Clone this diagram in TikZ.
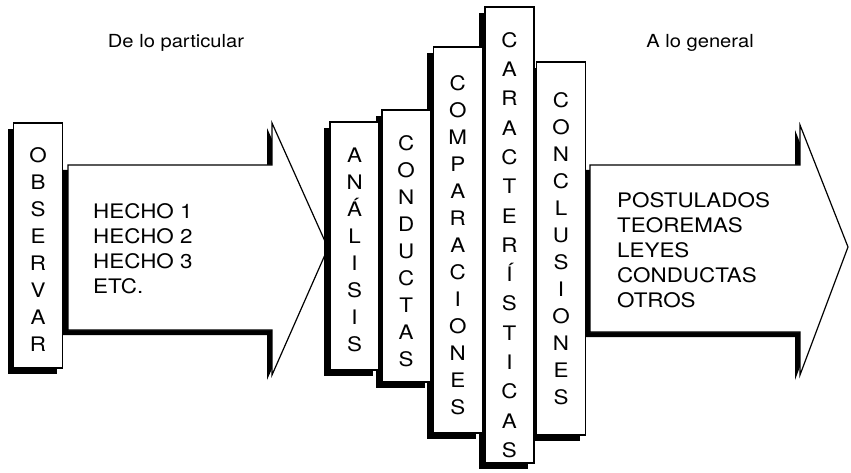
\documentclass[tikz,border=0pt]{standalone}
\usepackage{fontspec}
\setmainfont{TeX Gyre Heros}[FakeStretch=1.12]
\usetikzlibrary{positioning,shadows}

% invisible strut that pushes a column text down
\newcommand{\toppad}[1]{\rule{0pt}{#1}}

\begin{document}
\begin{tikzpicture}[
    x=1pt, y=-1pt,
    column/.style={
		rectangle,
		draw=black,
		line width=1.6pt,
		fill=white,
		minimum width=49pt,
		inner sep=0pt,
		align=center,
		font=\fontsize{20}{27}\selectfont,
		drop shadow={shadow xshift=-6pt, shadow yshift=-6pt, fill=black, opacity=1}
	},
	bigarrow/.style={
		draw=black,
		line width=1.2pt,
		fill=white,
		drop shadow={shadow xshift=-5pt, shadow yshift=-5pt, fill=black, opacity=1}
	},
	heading/.style={
		font=\fontsize{18}{22}\selectfont,
		anchor=base,
		inner sep=0pt
	},
	items/.style={
		font=\fontsize{20}{25}\selectfont,
		align=left,
		anchor=north west,
		inner sep=0pt
	}
  ]
  \useasboundingbox (0,0) rectangle (851,473);

  % the two big arrows
  \draw [bigarrow] (68,165) -- (272,165) -- (272,123) -- (328,248)
    -- (272,375) -- (272,330) -- (68,330) -- cycle;
  \draw [bigarrow] (590,165) -- (800,165) -- (800,125) -- (848,247)
    -- (800,375) -- (800,332) -- (590,332) -- cycle;

  % left box
  \node [column, minimum height=245pt] (obs) at (38,245.5)
  {\toppad{22pt}O\\B\\S\\E\\R\\V\\A\\R};

  % the stack of columns, placed from right to left
  \node [column, minimum height=373pt] (concl) at (561,248.5)
  {C\\O\\N\\C\\L\\U\\S\\I\\O\\N\\E\\S};
  \node [column, minimum height=456pt, left=1pt of concl, yshift=13.5pt,
    font=\fontsize{20}{29.3}\selectfont] (carac)
  {\toppad{35pt}C\\A\\R\\A\\C\\T\\E\\R\\Í\\S\\T\\I\\C\\A\\S};
  \node [column, minimum height=386pt, left=1pt of carac, yshift=-5pt] (comp)
  {\toppad{26pt}C\\O\\M\\P\\A\\R\\A\\C\\I\\O\\N\\E\\S};
  \node [column, minimum height=272pt, left=1pt of comp, yshift=-6pt] (cond)
  {\toppad{26pt}C\\O\\N\\D\\U\\C\\T\\A\\S};
  \node [column, minimum height=248pt, left=1pt of cond] (anal)
  {\toppad{22pt}A\\N\\Á\\L\\I\\S\\I\\S};

  % texts
  \node [heading] (from) at (176,48) {De lo particular};
  \node [heading] (to) at (700,48) {A lo general};
  \node [items] (facts) at (93,203) {HECHO 1\\HECHO 2\\HECHO 3\\ETC.};
  \node [items] (results) at (617,192)
  {POSTULADOS\\TEOREMAS\\LEYES\\CONDUCTAS\\OTROS};

\end{tikzpicture}
\end{document}
